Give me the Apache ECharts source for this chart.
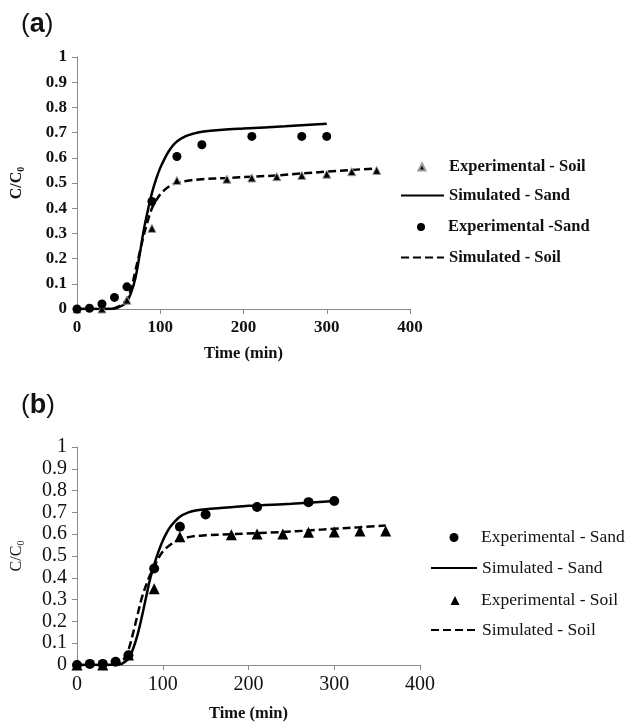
<!DOCTYPE html>
<html>
<head>
<meta charset="utf-8">
<script src="https://cdn.jsdelivr.net/npm/echarts@6/dist/echarts.min.js"></script>
<style>
  html, body { margin: 0; padding: 0; background: #fff; }
  #chart { width: 628px; height: 727px; }
</style>
</head>
<body>
<div id="chart"></div>
<script>
// Breakthrough curves: relative concentration C/C0 versus time (min)

// ---- Panel (a) ----
const aSandExpT = [0, 15, 30, 45, 60, 90, 120, 150, 210, 270, 300];
const aSandExpC = [0, 0.003, 0.02, 0.046, 0.088, 0.427, 0.605, 0.652, 0.685, 0.685, 0.685];

const aSoilExpT = [0, 30, 60, 90, 120, 180, 210, 240, 270, 300, 330, 360];
const aSoilExpC = [0, 0, 0.035, 0.32, 0.51, 0.515, 0.52, 0.525, 0.53, 0.535, 0.545, 0.55];

const aSandSimT = [0, 30, 45, 55, 60, 65, 70, 75, 80, 85, 90, 95, 100, 105, 110, 115, 120, 130, 140, 150, 175, 200, 250, 300];
const aSandSimC = [0, 0, 0.002, 0.015, 0.03, 0.065, 0.12, 0.21, 0.31, 0.39, 0.46, 0.515, 0.56, 0.595, 0.625, 0.648, 0.665, 0.685, 0.696, 0.703, 0.711, 0.716, 0.725, 0.735];

const aSoilSimT = [0, 40, 50, 55, 60, 65, 70, 75, 80, 85, 90, 95, 100, 110, 120, 135, 150, 180, 210, 240, 270, 300, 330, 360];
const aSoilSimC = [0, 0, 0.01, 0.02, 0.04, 0.08, 0.15, 0.22, 0.29, 0.35, 0.4, 0.43, 0.455, 0.485, 0.5, 0.51, 0.515, 0.52, 0.525, 0.53, 0.538, 0.545, 0.552, 0.558];

// ---- Panel (b) ----
const bSandExpT = [0, 15, 30, 45, 60, 90, 120, 150, 210, 270, 300];
const bSandExpC = [0, 0.005, 0.005, 0.015, 0.045, 0.443, 0.634, 0.69, 0.725, 0.747, 0.752];

const bSoilExpT = [0, 30, 60, 90, 120, 180, 210, 240, 270, 300, 330, 360];
const bSoilExpC = [0, 0, 0.046, 0.35, 0.588, 0.598, 0.601, 0.601, 0.609, 0.61, 0.615, 0.615];

const bSandSimT = [0, 30, 50, 55, 60, 65, 70, 75, 80, 85, 90, 95, 100, 105, 110, 120, 130, 140, 150, 175, 200, 250, 300];
const bSandSimC = [0, 0, 0.003, 0.012, 0.03, 0.07, 0.13, 0.21, 0.3, 0.39, 0.46, 0.52, 0.57, 0.61, 0.64, 0.68, 0.7, 0.71, 0.715, 0.722, 0.73, 0.74, 0.752];

const bSoilSimT = [0, 40, 50, 55, 60, 65, 70, 75, 80, 85, 90, 95, 100, 110, 120, 135, 150, 180, 210, 240, 270, 300, 330, 360];
const bSoilSimC = [0, 0, 0.01, 0.03, 0.07, 0.14, 0.22, 0.3, 0.36, 0.41, 0.45, 0.49, 0.52, 0.555, 0.575, 0.59, 0.595, 0.6, 0.605, 0.61, 0.617, 0.625, 0.632, 0.64];

const xTicks = { min: 0, max: 400, interval: 100 };
const yTicks = { min: 0, max: 1, interval: 0.1 };

const pairs = (t, c) => t.map((x, i) => [x, c[i]]);

const SERIF = '"Liberation Serif", "Times New Roman", serif';
const SANS = '"Liberation Sans", Arial, sans-serif';
const AXIS_GREY = '#8a8a8a';

function xAxis(gridIndex, bold, labelSize, nameGap) {
  return {
    type: 'value', gridIndex, min: xTicks.min, max: xTicks.max, interval: xTicks.interval,
    name: 'Time (min)', nameLocation: 'middle', nameGap,
    nameTextStyle: { fontFamily: SERIF, fontWeight: 'bold', fontSize: 16.5, color: '#111' },
    axisLine: { show: true, lineStyle: { color: AXIS_GREY, width: 1 } },
    axisTick: { show: true, inside: false, length: 5, lineStyle: { color: AXIS_GREY } },
    axisLabel: { fontFamily: SERIF, fontWeight: bold ? 'bold' : 'normal', fontSize: labelSize, color: '#111', margin: 10 },
    splitLine: { show: false }
  };
}

function yAxis(gridIndex, bold, labelSize) {
  return {
    type: 'value', gridIndex, min: yTicks.min, max: yTicks.max, interval: yTicks.interval,
    name: '{c|C/C}{s|0}', nameLocation: 'middle', nameGap: 51, nameRotate: 90,
    nameTextStyle: {
      rich: {
        c: { fontFamily: SERIF, fontWeight: bold ? 'bold' : 'normal', fontSize: 16, color: '#111' },
        s: { fontFamily: SERIF, fontWeight: bold ? 'bold' : 'normal', fontSize: 10, color: '#111', padding: [8, 0, 0, 0] }
      }
    },
    axisLine: { show: true, lineStyle: { color: AXIS_GREY, width: 1 } },
    axisTick: { show: true, inside: false, length: 5, lineStyle: { color: AXIS_GREY } },
    axisLabel: { fontFamily: SERIF, fontWeight: bold ? 'bold' : 'normal', fontSize: labelSize, color: '#111', margin: 10 },
    splitLine: { show: false }
  };
}

const lineSeries = (name, idx, data, dashed) => ({
  name, type: 'line', xAxisIndex: idx, yAxisIndex: idx, data,
  showSymbol: false, symbol: 'circle', smooth: 0.35,
  lineStyle: { color: '#000', width: 2.5, type: dashed ? [8, 4] : 'solid' },
  itemStyle: { color: '#000' }, z: 2
});

const scatterSeries = (name, idx, data, symbol, size, border) => ({
  name, type: 'scatter', xAxisIndex: idx, yAxisIndex: idx, data, symbol, symbolSize: size,
  itemStyle: { color: '#000', borderColor: border || '#000', borderWidth: border ? 1 : 0, opacity: 1 },
  z: 3
});

// One legend block per entry so each key can have its own icon size.
// cx, cy: icon centre; w, h: icon box; textX: where the label starts.
function legendEntry(name, cx, cy, w, h, textX, font, isLine) {
  const left = cx - w / 2;
  const pad = Math.max(0, textX - (left + w + 5));
  const boxH = Math.max(h, 13);
  return {
    orient: 'horizontal', left, top: cy - boxH / 2, itemWidth: w, itemHeight: h,
    padding: 0, selectedMode: false,
    data: [isLine ? { name, itemStyle: { opacity: 0 } } : { name }],
    textStyle: Object.assign({ color: '#111', padding: [0, 0, 0, pad] }, font)
  };
}

const fontA = { fontFamily: SERIF, fontWeight: 'bold', fontSize: 16.5 };
const fontB = { fontFamily: SERIF, fontWeight: 'normal', fontSize: 17.5 };

const chart = echarts.init(document.getElementById('chart'), null, { renderer: 'canvas' });

chart.setOption({
  backgroundColor: '#fff',
  animation: false,
  textStyle: { fontFamily: SERIF },
  grid: [
    { left: 77, top: 57, width: 333, height: 252 },
    { left: 77, top: 447, width: 343, height: 218 }
  ],
  xAxis: [xAxis(0, true, 17, 36), xAxis(1, false, 20, 40)],
  yAxis: [yAxis(0, true, 17), yAxis(1, false, 20)],
  legend: [
    legendEntry('Experimental - Soil', 421, 165, 7, 7, 448, fontA, false),
    legendEntry('Simulated - Sand', 421.5, 194, 43, 14, 448, fontA, true),
    legendEntry('Experimental -Sand', 421, 225, 8, 8, 448, fontA, false),
    legendEntry('Simulated - Soil', 421.5, 256, 43, 14, 448, fontA, true),

    legendEntry('Experimental - Sand', 454, 535, 9, 9, 481, fontB, false),
    legendEntry('Simulated - Sand ', 453, 566, 46, 14, 481, fontB, true),
    legendEntry('Experimental - Soil ', 455, 598, 9, 9, 481, fontB, false),
    legendEntry('Simulated - Soil ', 453, 628, 46, 14, 481, fontB, true)
  ],
  graphic: [
    {
      type: 'text', left: 21, top: 11,
      style: { text: '{p|(}{b|a}{p|)}', rich: {
        p: { fontFamily: SANS, fontSize: 26, fill: '#111' },
        b: { fontFamily: SANS, fontSize: 27, fontWeight: 'bold', fill: '#111' }
      } }
    },
    {
      type: 'text', left: 21, top: 392,
      style: { text: '{p|(}{b|b}{p|)}', rich: {
        p: { fontFamily: SANS, fontSize: 26, fill: '#111' },
        b: { fontFamily: SANS, fontSize: 27, fontWeight: 'bold', fill: '#111' }
      } }
    }
  ],
  series: [
    lineSeries('Simulated - Sand', 0, pairs(aSandSimT, aSandSimC), false),
    lineSeries('Simulated - Soil', 0, pairs(aSoilSimT, aSoilSimC), true),
    scatterSeries('Experimental - Soil', 0, pairs(aSoilExpT, aSoilExpC), 'triangle', 8, '#9a9a9a'),
    scatterSeries('Experimental -Sand', 0, pairs(aSandExpT, aSandExpC), 'circle', 9),

    lineSeries('Simulated - Sand ', 1, pairs(bSandSimT, bSandSimC), false),
    lineSeries('Simulated - Soil ', 1, pairs(bSoilSimT, bSoilSimC), true),
    scatterSeries('Experimental - Soil ', 1, pairs(bSoilExpT, bSoilExpC), 'triangle', 11),
    scatterSeries('Experimental - Sand', 1, pairs(bSandExpT, bSandExpC), 'circle', 10)
  ]
});
</script>
</body>
</html>
